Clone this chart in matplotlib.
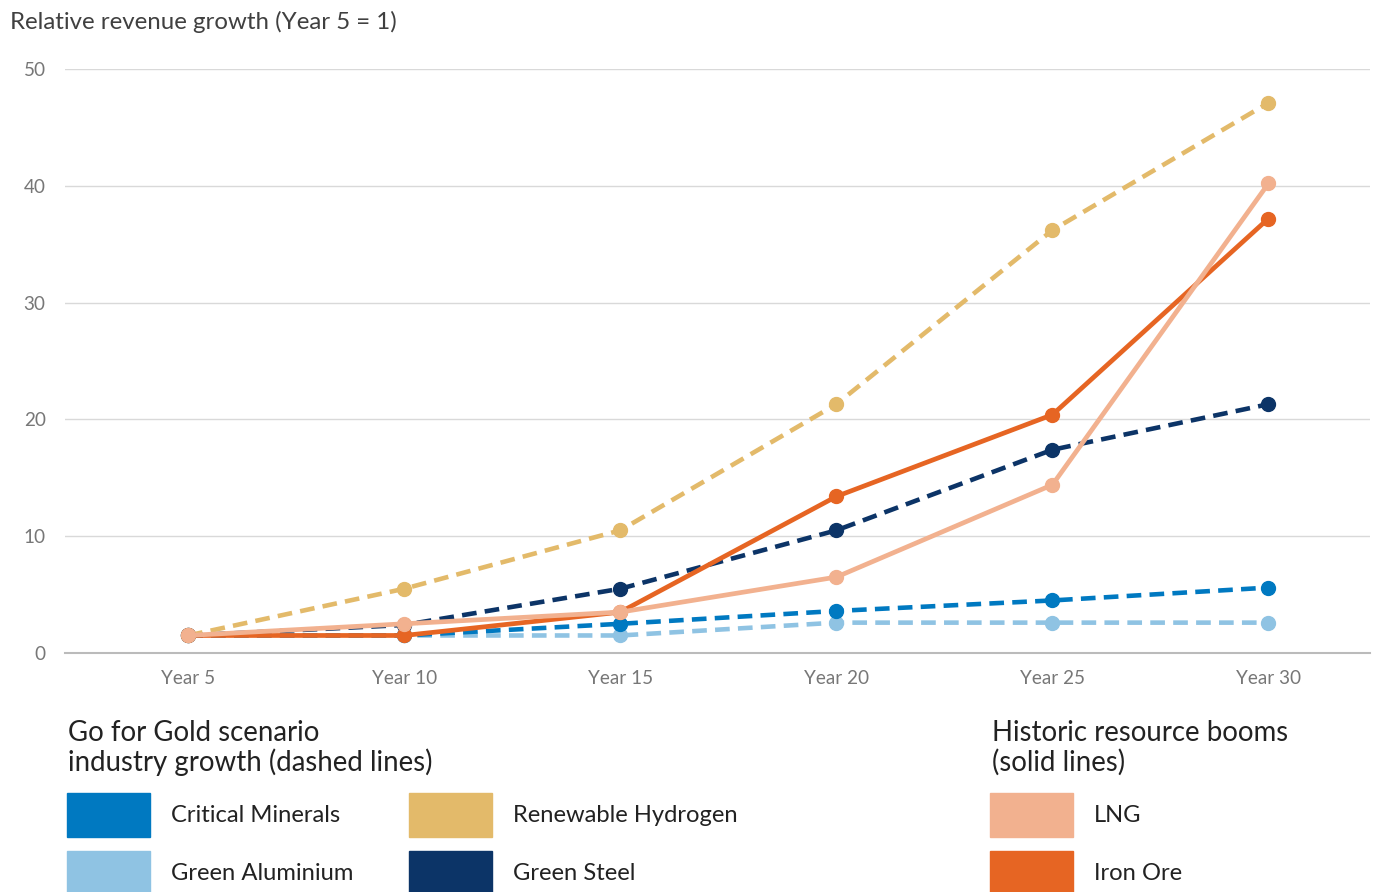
import matplotlib
matplotlib.use("Agg")
import matplotlib.pyplot as plt
from matplotlib.patches import Rectangle

plt.rcParams['font.family'] = ['Lato', 'DejaVu Sans']

years = ["Year 5", "Year 10", "Year 15", "Year 20", "Year 25", "Year 30"]
critical_minerals = [1.5, 1.5, 2.5, 3.6, 4.5, 5.6]
green_aluminium = [1.5, 1.5, 1.5, 2.6, 2.6, 2.6]
renewable_hydrogen = [1.5, 5.5, 10.5, 21.3, 36.2, 47.1]
green_steel = [1.5, 2.4, 5.5, 10.5, 17.4, 21.3]
lng = [1.5, 2.5, 3.5, 6.5, 14.4, 40.2]
iron_ore = [1.5, 1.5, 3.5, 13.4, 20.4, 37.2]
yticks = [0, 10, 20, 30, 40, 50]

C_CM = "#0079C1"
C_GA = "#8FC3E3"
C_RH = "#E3BA6A"
C_GS = "#0C3467"
C_LNG = "#F2B18F"
C_IO = "#E66523"

W, H = 1378, 892
fig = plt.figure(figsize=(W / 100, H / 100), dpi=100)
ax = fig.add_axes([65 / W, 1 - 653 / H, (1370 - 65) / W, (653 - 69) / H])

x = list(range(len(years)))
dashed = [(green_aluminium, C_GA), (critical_minerals, C_CM),
          (green_steel, C_GS), (renewable_hydrogen, C_RH)]
for vals, c in dashed:
    ax.plot(x, vals, color=c, lw=3.3, dashes=(3.2, 1.8), marker='o', ms=10,
            mec=c, mfc=c, zorder=3, clip_on=False)
for vals, c in [(iron_ore, C_IO), (lng, C_LNG)]:
    ax.plot(x, vals, color=c, lw=3.4, marker='o', ms=10, mec=c, mfc=c,
            zorder=4, clip_on=False)

ax.set_xlim(-0.57, 5.47)
ax.set_ylim(0, 50)
ax.set_yticks(yticks)
ax.set_xticks(x)
ax.set_xticklabels(years)
ax.grid(axis='y', color='#d9d9d9', lw=1)
ax.set_axisbelow(True)
for s in ['top', 'right', 'left']:
    ax.spines[s].set_visible(False)
ax.spines['bottom'].set_color('#bbbbbb')
ax.spines['bottom'].set_linewidth(1.5)
ax.tick_params(axis='both', length=0, labelsize=13.6, colors='#777777')
ax.tick_params(axis='y', pad=14)
ax.tick_params(axis='x', pad=12)
for lbl in ax.get_yticklabels():
    lbl.set_horizontalalignment('right')

fig.text(10 / W, 1 - 22 / H, "Relative revenue growth (Year 5 = 1)",
         fontsize=17.3, color='#404040', va='center', ha='left')

# legend
fig.text(68 / W, 1 - 748 / H, "Go for Gold scenario\nindustry growth (dashed lines)",
         fontsize=19.9, color='#222222', va='center', ha='left', linespacing=1.13)
fig.text(992 / W, 1 - 748 / H, "Historic resource booms\n(solid lines)",
         fontsize=19.9, color='#222222', va='center', ha='left', linespacing=1.13)

items = [
    (67, 815, C_CM, "Critical Minerals"),
    (67, 873, C_GA, "Green Aluminium"),
    (409, 815, C_RH, "Renewable Hydrogen"),
    (409, 873, C_GS, "Green Steel"),
    (990, 815, C_LNG, "LNG"),
    (990, 873, C_IO, "Iron Ore"),
]
for px, py, c, label in items:
    fig.patches.append(Rectangle((px / W, 1 - (py + 22) / H), 83 / W, 44 / H,
                                 transform=fig.transFigure, color=c, zorder=1))
    fig.text((px + 104) / W, 1 - py / H, label, fontsize=17.1, color='#222222',
             va='center', ha='left')

fig.savefig("out.png", dpi=100, facecolor='white')
